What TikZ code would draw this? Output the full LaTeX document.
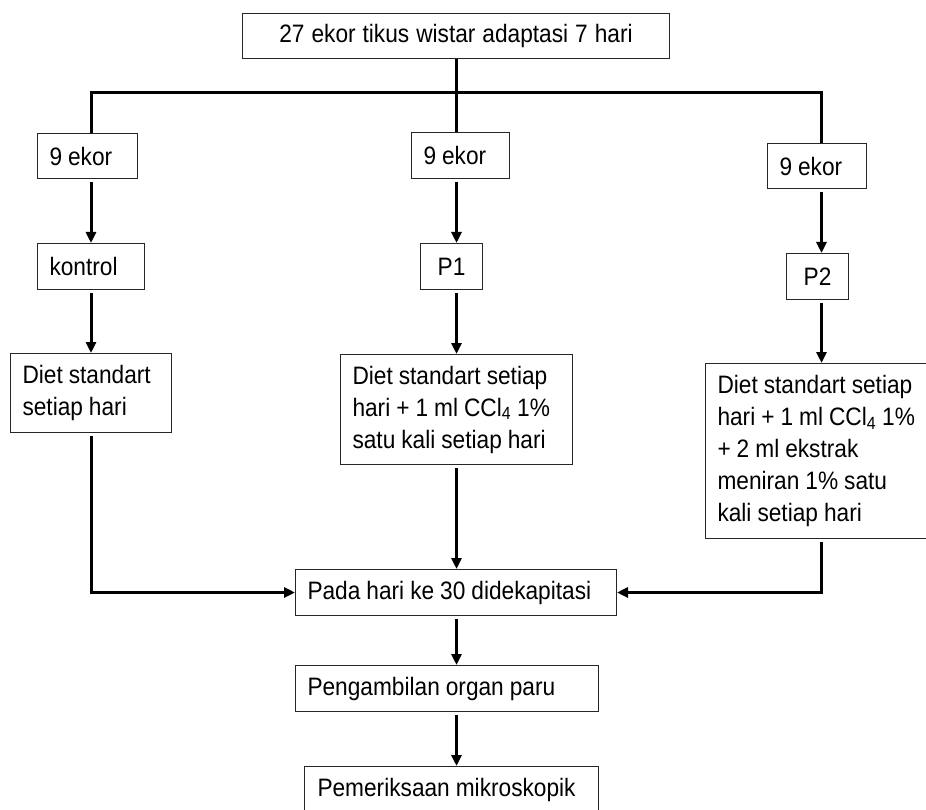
\documentclass[tikz,border=0pt]{standalone}
\usepackage{fontspec}
\setmainfont{Liberation Sans}[FakeStretch=0.9]
\usetikzlibrary{arrows.meta,positioning,calc}

\begin{document}
\begin{tikzpicture}[x=1pt,y=-1pt,
    every node/.style={font=\fontsize{25.2}{32}\selectfont},
    cbox/.style={draw=black!85, line width=1pt, anchor=north west, align=center, inner xsep=12pt, inner ysep=0pt,
      execute at begin node={\spaceskip=6pt plus 2pt minus 1pt\relax}},
    box/.style={cbox, align=left, execute at begin node={\rightskip=0pt plus 1fil minus 30pt\relax}},
    link/.style={line width=3pt},
    arr/.style={line width=3pt, -{Triangle[length=11pt,width=10pt]}, shorten <=3pt}]
    \useasboundingbox (0,0) rectangle (926,810);
    \node[cbox, text width=403pt, minimum height=45pt] (top) at (242,13) {27 ekor tikus wistar adaptasi 7 hari};
    \node[box, text width=76pt, minimum height=45pt] (e1) at (37,133) {9 ekor};
    \node[box, text width=74pt, minimum height=46pt] (e2) at (411,132) {9 ekor};
    \node[box, text width=75pt, minimum height=45pt] (e3) at (767,143) {9 ekor};
    \node[box, text width=83pt, minimum height=46pt] (k) at (37,243) {kontrol};
    \node[cbox, text width=38pt, minimum height=46pt] (p1) at (420,243) {P1};
    \node[cbox, text width=38pt, minimum height=46pt] (p2) at (786,253) {P2};
    \node[box, text width=137pt, minimum height=79pt] (d1) at (10,353) {Diet standart\\setiap hari};
    \node[box, text width=208pt, minimum height=110pt] (d2) at (340,354) {Diet standart setiap\\hari + 1 ml CCl\textsubscript{4} 1\%\\satu kali setiap hari};
    \node[box, text width=208pt, minimum height=175pt] (d3) at (705,363) {Diet standart setiap\\hari + 1 ml CCl\textsubscript{4} 1\%\\+ 2 ml ekstrak\\meniran 1\% satu\\kali setiap hari};
    \node[box, text width=297pt, minimum height=46pt] (pada) at (295,569) {Pada hari ke 30 didekapitasi};
    \node[box, text width=279pt, minimum height=46pt] (peng) at (295,665) {Pengambilan organ paru};
    \node[box, inner xsep=13pt, text width=268pt, minimum height=46pt] (pem) at (304,766) {Pemeriksaan mikroskopik};
    \coordinate (split) at (457,93);
    \draw[link] (top.south) -- (top.south |- e2.north);
    \draw[link] (d1 |- e1.north) |- (split) -| (d3 |- e3.north);
    \draw[arr] (d1 |- e1.south) -- (d1 |- k.north);
    \draw[arr] (d2 |- e2.south) -- (d2 |- p1.north);
    \draw[arr] (d3 |- e3.south) -- (d3 |- p2.north);
    \draw[arr] (d1 |- k.south) -- (d1.north);
    \draw[arr] (d2 |- p1.south) -- (d2.north);
    \draw[arr] (d3 |- p2.south) -- (d3.north);
    \draw[arr] (d1.south) |- (pada.west);
    \draw[arr] (d2.south) -- (d2 |- pada.north);
    \draw[arr] (d3.south) |- (pada.east);
    \draw[arr] (d2 |- pada.south) -- (d2 |- peng.north);
    \draw[arr] (d2 |- peng.south) -- (d2 |- pem.north);
\end{tikzpicture}
\end{document}
